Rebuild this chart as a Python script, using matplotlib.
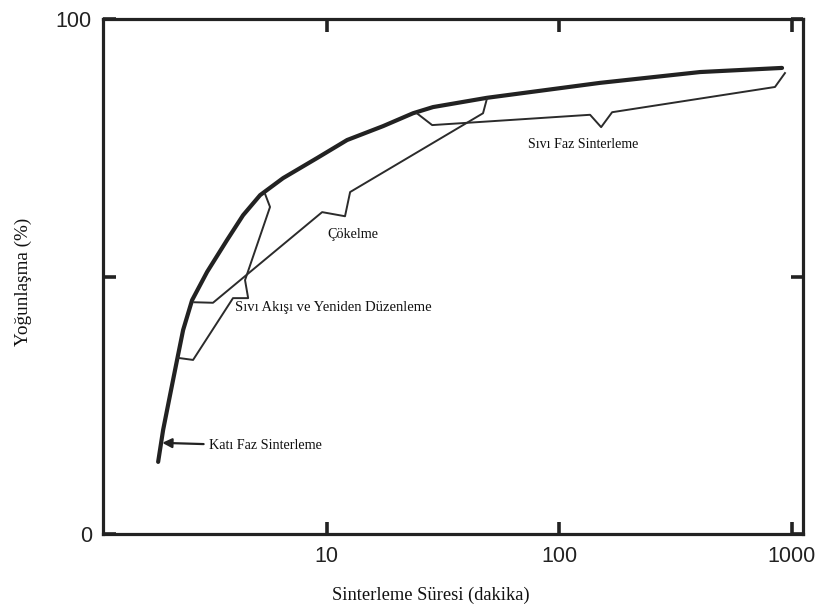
import matplotlib
matplotlib.use("Agg")
import matplotlib.pyplot as plt

# ---- data ----
# main (overall) densification curve
main_t = [1.882, 1.977, 2.118, 2.270, 2.410, 2.634, 3.057, 3.726, 4.365, 5.167, 6.486,
          9.085, 12.23, 17.47, 23.50, 28.66, 48.93, 149.8, 403.3, 908.4]
main_d = [14.0, 20.2, 27.0, 33.8, 39.6, 45.4, 50.9, 57.1, 61.9, 65.8, 69.1,
          73.0, 76.5, 79.2, 81.7, 82.9, 84.7, 87.6, 89.7, 90.5]

# liquid flow / rearrangement branch
flow_t = [2.29, 2.66, 3.95, 4.59, 4.45, 5.70, 5.43]
flow_d = [34.2, 33.8, 45.8, 45.8, 49.3, 63.5, 66.0]

# precipitation (solution-reprecipitation) branch
prec_t = [2.69, 3.24, 9.55, 11.98, 12.6, 47.0, 48.9]
prec_d = [45.0, 44.9, 62.5, 61.7, 66.4, 81.7, 84.6]

# liquid phase sintering branch
lps_t = [24.4, 28.4, 135.7, 151.4, 168.8, 847, 935]
lps_d = [81.7, 79.4, 81.4, 79.0, 81.9, 86.8, 89.5]

x_ticks = [10, 100, 1000]
x_tick_labels = ["10", "100", "1000"]
y_ticks = [0, 50, 100]
y_tick_labels = ["0", "", "100"]

labels = ["Katı Faz Sinterleme", "Sıvı Akışı ve Yeniden Düzenleme", "Çökelme", "Sıvı Faz Sinterleme"]

# ---- figure ----
fig = plt.figure(figsize=(8.22, 6.11), dpi=100)
ax = fig.add_axes([103/822, 1-534/611, 700/822, 515/611])

ax.set_xscale("log")
ax.set_xlim(1.09, 1118)
ax.set_ylim(0, 100)

line_col = "#2b2b2b"
ax.plot(main_t, main_d, color="#222222", lw=3.0, solid_capstyle="round", solid_joinstyle="round")
ax.plot(flow_t, flow_d, color=line_col, lw=1.4)
ax.plot(prec_t, prec_d, color=line_col, lw=1.4)
ax.plot(lps_t, lps_d, color=line_col, lw=1.4)

serif = ["Liberation Serif", "DejaVu Serif"]
sans = ["Liberation Sans", "DejaVu Sans"]

ax.annotate(labels[0], xy=(1.96, 17.7), xytext=(3.12, 17.1), ha="left", va="center",
            fontsize=10.2, family=serif, color="#111111",
            arrowprops=dict(arrowstyle="-|>", color="#222222", lw=1.6, mutation_scale=14,
                            shrinkA=2, shrinkB=0))
ax.text(4.03, 43.9, labels[1], ha="left", va="center", fontsize=10.5, family=serif, color="#111111")
ax.text(13.0, 58.1, labels[2], ha="center", va="center", fontsize=10.2, family=serif, color="#111111")
ax.text(126.8, 75.7, labels[3], ha="center", va="center", fontsize=10.1, family=serif, color="#111111")

# ticks
ax.set_xticks(x_ticks)
ax.set_xticklabels(x_tick_labels)
ax.xaxis.set_minor_locator(matplotlib.ticker.NullLocator())
ax.set_yticks(y_ticks)
ax.set_yticklabels(y_tick_labels)
ax.tick_params(axis="both", which="major", direction="in", length=9, width=2.6,
               color="#222222", top=True, right=True, labelsize=15.5, labelcolor="#222222")
ax.tick_params(axis="x", pad=9)
ax.tick_params(axis="y", pad=8)
for lab in ax.get_xticklabels() + ax.get_yticklabels():
    lab.set_family(sans)

for s in ax.spines.values():
    s.set_linewidth(2.3)
    s.set_color("#222222")

ax.set_xlabel("Sinterleme Süresi (dakika)", family=serif, fontsize=13.3, color="#111111",
              va="center", ha="center")
ax.xaxis.set_label_coords((431-103)/700, (534-595)/515)
ax.set_ylabel("Yoğunlaşma (%)", family=serif, fontsize=13.8, color="#111111",
              va="center", ha="center")
ax.yaxis.set_label_coords((23-103)/700, (534-282)/515)

fig.savefig("out.png", dpi=100)
